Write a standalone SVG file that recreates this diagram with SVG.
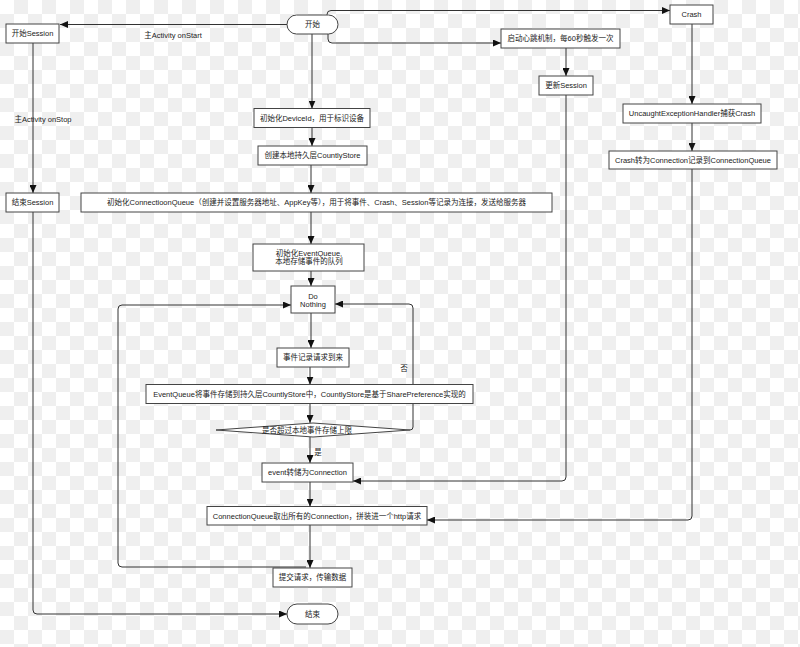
<svg xmlns="http://www.w3.org/2000/svg" width="800" height="647" viewBox="0 0 800 647">
<defs>
<pattern id="chk" x="0" y="0" width="28" height="28" patternUnits="userSpaceOnUse">
<rect width="28" height="28" fill="#ffffff"/>
<rect x="14" y="0" width="14" height="14" fill="#efefef"/>
<rect x="0" y="14" width="14" height="14" fill="#efefef"/>
</pattern>
<marker id="arr" markerWidth="8" markerHeight="7" refX="8" refY="3.5" orient="auto" markerUnits="userSpaceOnUse">
<path d="M0,0 L8,3.5 L0,7 z" fill="#111"/>
</marker>
</defs>
<style>
.n{fill:#fff;stroke:#444;stroke-width:1}
.t{font-family:"Liberation Sans","Noto Sans CJK SC",sans-serif;font-size:7.5px;fill:#222;text-anchor:middle;dominant-baseline:central}
.c{fill:none;stroke:#333;stroke-width:1;marker-end:url(#arr)}
.cl{fill:none;stroke:#333;stroke-width:1}
</style>
<rect width="800" height="647" fill="url(#chk)"/>
<g id="connectors">
<path class="c" d="M287,24.5 H60"/>
<path class="c" d="M33,43 V193"/>
<path class="c" d="M33,212 V610 Q33,614 37,614 H287"/>
<path class="c" d="M327,15 V14.5 Q327,10.5 331,10.5 H670"/>
<path class="c" d="M328,34 V39 Q328,43 332,43 H501"/>
<path class="c" d="M566,48 V76"/>
<path class="c" d="M566,95 V477 Q566,481 562,481 H353"/>
<path class="c" d="M692,24 V104"/>
<path class="c" d="M692,123 V151"/>
<path class="c" d="M692,169 V516 Q692,520 688,520 H427"/>
<path class="c" d="M312,34 V108.5"/>
<path class="c" d="M312,127.5 V146"/>
<path class="c" d="M311,165 V193"/>
<path class="c" d="M311,212 V244"/>
<path class="c" d="M311,271 V286"/>
<path class="c" d="M311,313 V348"/>
<path class="c" d="M310,367 V384.5"/>
<path class="c" d="M310,403.5 V423"/>
<path class="c" d="M310,437 V463"/>
<path class="c" d="M410,430 Q413,430 413,427 V308 Q413,304 409,304 H335"/>
<path class="c" d="M310,482 V506.5"/>
<path class="c" d="M310,525 V568"/>
<path class="c" d="M306,567 H122 Q118,567 118,563 V309 Q118,305 122,305 H291"/>
<text class="t" x="173" y="35">主Activity onStart</text>
<text class="t" x="43" y="119">主Activity onStop</text>
<text class="t" x="404" y="368">否</text>
<text class="t" x="318" y="452">是</text>
</g>
<g id="start"><rect class="n" x="287" y="15" width="51" height="19" rx="9.5"/><text class="t" x="312.5" y="24.5">开始</text></g>
<g id="startSession"><rect class="n" x="6" y="24" width="53" height="19"/><text class="t" x="32.5" y="33.5">开始Session</text></g>
<g id="endSession"><rect class="n" x="6" y="193" width="53" height="19"/><text class="t" x="32.5" y="202.5">结束Session</text></g>
<g id="deviceId"><rect class="n" x="254" y="108.5" width="116" height="19"/><text class="t" x="312" y="118">初始化DeviceId，用于标识设备</text></g>
<g id="countlyStore"><rect class="n" x="258" y="146" width="109" height="19"/><text class="t" x="312.5" y="155.5">创建本地持久层CountlyStore</text></g>
<g id="connInit"><rect class="n" x="81" y="193" width="471" height="19"/><text class="t" x="316.5" y="202.5">初始化ConnectioonQueue（创建并设置服务器地址、AppKey等），用于将事件、Crash、Session等记录为连接，发送给服务器</text></g>
<g id="eventQueueInit"><rect class="n" x="253" y="244" width="111" height="27"/><text class="t" x="309" y="253.5">初始化EventQueue,</text><text class="t" x="309" y="261.5">本地存储事件的队列</text></g>
<g id="doNothing"><rect class="n" x="291" y="286" width="44" height="27"/><text class="t" x="313" y="296">Do</text><text class="t" x="313" y="304">Nothing</text></g>
<g id="eventArrive"><rect class="n" x="277" y="348" width="72" height="19"/><text class="t" x="313" y="357.5">事件记录请求到来</text></g>
<g id="eventStore"><rect class="n" x="146" y="384.5" width="327" height="19"/><text class="t" x="309.5" y="394">EventQueue将事件存储到持久层CountlyStore中，CountlyStore是基于SharePreference实现的</text></g>
<g id="decision"><polygon class="n" points="216,430 313,423 410,430 313,437"/><text class="t" x="307" y="430">是否超过本地事件存储上限</text></g>
<g id="eventConn"><rect class="n" x="262" y="463" width="91" height="19"/><text class="t" x="307.5" y="472.5">event转储为Connection</text></g>
<g id="connQueue"><rect class="n" x="207" y="506.5" width="220" height="18.5"/><text class="t" x="317" y="516">ConnectionQueue取出所有的Connection，拼装进一个http请求</text></g>
<g id="submit"><rect class="n" x="273" y="568" width="79" height="19"/><text class="t" x="312.5" y="577.5">提交请求，传输数据</text></g>
<g id="end"><rect class="n" x="287" y="604" width="51" height="20" rx="10"/><text class="t" x="312.5" y="614">结束</text></g>
<g id="crash"><rect class="n" x="670" y="5" width="43" height="19"/><text class="t" x="691.5" y="14.5">Crash</text></g>
<g id="heartbeat"><rect class="n" x="501" y="29" width="119" height="19"/><text class="t" x="560.5" y="38.5">启动心跳机制，每60秒触发一次</text></g>
<g id="updateSession"><rect class="n" x="539" y="76" width="54" height="19"/><text class="t" x="566" y="85.5">更新Session</text></g>
<g id="uncaught"><rect class="n" x="623" y="104" width="138" height="19"/><text class="t" x="692" y="113.5">UncaughtExceptionHandler捕获Crash</text></g>
<g id="crashConn"><rect class="n" x="609" y="151" width="168" height="18"/><text class="t" x="693" y="160">Crash转为Connection记录到ConnectionQueue</text></g>
</svg>
